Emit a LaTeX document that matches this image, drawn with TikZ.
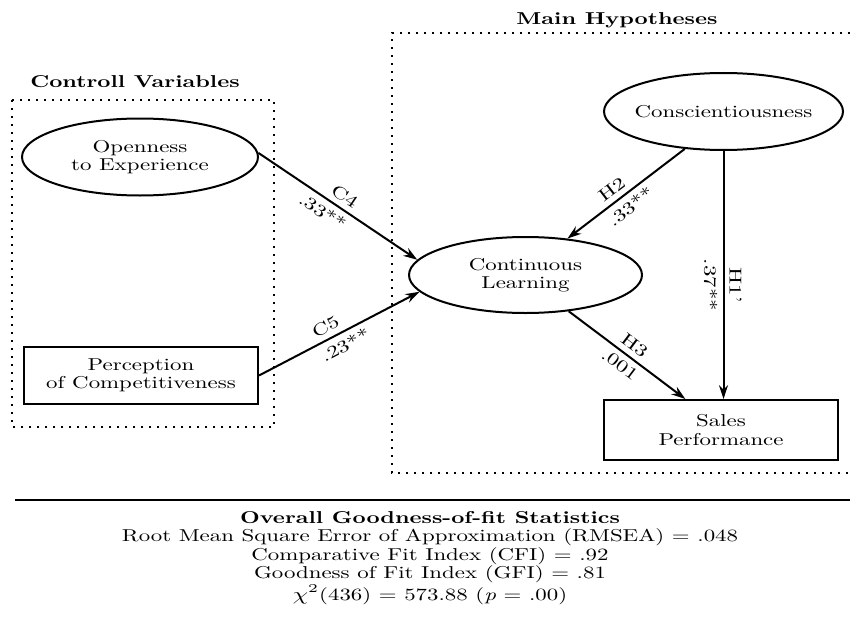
\documentclass[tikz,border=0pt]{standalone}
\usepackage{fontspec}
\setmainfont{lmroman10}[Extension=.otf,UprightFont=*-regular,BoldFont=*-bold,ItalicFont=*-italic,BoldItalicFont=*-bolditalic,FakeStretch=1.33]
\usepackage{graphicx}
\usetikzlibrary{arrows.meta,calc,shapes.geometric}
\newcommand{\sx}[1]{\scalebox{1.33}[1]{#1}}
\begin{document}
\begin{tikzpicture}[x=0.5pt,y=-0.5pt,
  every node/.style={font=\fontsize{8.6}{9.2}\selectfont},
  latent/.style={draw,ellipse,line width=1pt,inner sep=0pt,inner xsep=-6pt,align=center},
  observed/.style={draw,rectangle,line width=1pt,inner sep=0pt,align=center},
  causal/.style={line width=1pt,-{Stealth[length=7pt,width=4.6pt]}},
  lab/.style={sloped,inner sep=2.6pt},
  group/.style={line width=1.2pt,dash pattern=on 1pt off 3pt},
  heading/.style={font=\fontsize{8.6}{9.2}\selectfont\bfseries}]
\useasboundingbox (0,0) rectangle (850,642);
\node[heading] (hctrl) at (135,82) {Controll Variables};
\node[heading] (hmain) at (617,20) {Main Hypotheses};
\draw[group] (12,100) rectangle (274,427);
\draw[group] (850,33) -- (392,33) -- (392,473) -- (850,473);
\node[latent,minimum width=118pt,minimum height=38.5pt] (open) at (140,157) {Openness\\to Experience};
\node[observed,minimum width=117pt,minimum height=28.5pt] (comp) at (141,375.5) {Perception\\of Competitiveness};
\node[latent,minimum width=119.5pt,minimum height=38.5pt] (consc) at (723.5,111.5) {Conscientiousness};
\node[latent,minimum width=116.5pt,minimum height=38pt] (learn) at (525.5,275) {Continuous\\Learning};
\node[observed,minimum width=117pt,minimum height=30pt] (sales) at (721,430) {Sales\\Performance};
\draw[causal] (open.2) -- node[lab,above]{C4} node[lab,below,pos=0.45]{.33**} (learn.172);
\draw[causal] (comp.east) -- node[lab,above,pos=0.45]{C5} node[lab,below,pos=0.5]{.23**} (learn.189);
\draw[causal] (consc.224) -- node[lab,above,pos=0.56]{H2} node[lab,below,pos=0.53]{.33**} (learn.41);
\draw[causal] (consc.south) -- node[lab,above,pos=0.54]{H1'} node[lab,below,pos=0.54]{.37**} (consc.south |- sales.north);
\draw[causal] (learn.-40) -- node[lab,above]{H3} node[lab,below]{.001} (sales.139);
\draw[line width=1.4pt] (15,500) -- (850,500);
\node[align=center] (stats) at (430,558) {\textbf{Overall Goodness-of-fit Statistics}\\
Root Mean Square Error of Approximation (RMSEA) = .048\\
Comparative Fit Index (CFI) = .92\\
Goodness of Fit Index (GFI) = .81\\
\sx{$\chi^2$}(436) = 573.88 (\textit{p} = .00)};
\end{tikzpicture}
\end{document}
